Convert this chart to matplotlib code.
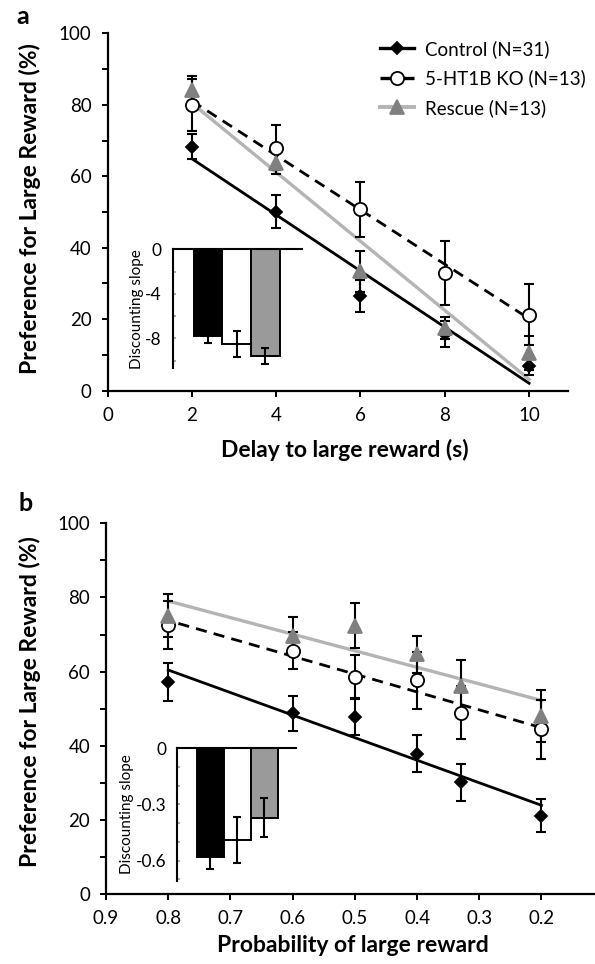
import numpy as np
import matplotlib
matplotlib.use("Agg")
import matplotlib.pyplot as plt
from matplotlib.lines import Line2D

plt.rcParams['font.family'] = ['Lato', 'DejaVu Sans']

# ---------------- data ----------------
series_names = ["Control (N=31)", "5-HT1B KO (N=13)", "Rescue (N=13)"]

delays = [2, 4, 6, 8, 10]
ctrl_a = [68.3, 50.1, 26.4, 15.8, 6.9]
ctrl_a_err = [3.5, 4.7, 4.5, 3.7, 2.5]
ko_a = [80.0, 68.0, 50.8, 33.0, 21.3]
ko_a_err = [7.3, 6.3, 7.7, 9.0, 8.5]
res_a = [84.0, 63.7, 33.4, 17.5, 10.5]
res_a_err = [4.0, 3.0, 5.8, 3.0, 4.7]

probs = [0.8, 0.6, 0.5, 0.4, 0.33, 0.2]
ctrl_b = [57.1, 48.7, 47.8, 37.8, 30.2, 21.1]
ctrl_b_err = [5.1, 4.7, 5.0, 5.0, 5.0, 4.5]
ko_b = [72.6, 65.6, 58.6, 57.6, 48.9, 44.4]
ko_b_err = [6.5, 5.0, 6.0, 7.6, 7.2, 8.0]
res_b = [75.1, 69.7, 72.4, 64.7, 56.2, 48.0]
res_b_err = [5.8, 5.0, 6.0, 5.0, 7.0, 7.0]

slope_a = [-7.8, -8.5, -9.6]
slope_a_err = [0.65, 1.15, 0.75]
slope_b = [-0.58, -0.49, -0.37]
slope_b_err = [0.066, 0.123, 0.104]

a_xticks = [0, 2, 4, 6, 8, 10]
b_xticks = [0.9, 0.8, 0.7, 0.6, 0.5, 0.4, 0.3, 0.2]
y_ticks = [0, 20, 40, 60, 80, 100]

# ---------------- styles ----------------
W, H = 595, 964
TICK_FS = 13.5
LABEL_FS = 16.5
LINE_GRAY = '#b4b4b4'
MARK_GRAY = '#808080'
BAR_GRAY = '#9a9a9a'

styles = [
    dict(marker='D', ms=6.5, mfc='black', mec='black', line_color='black', ls='-', lw=2.0),
    dict(marker='o', ms=9.5, mfc='white', mec='black', line_color='black', ls=(0, (4, 2.6)), lw=2.0),
    dict(marker='^', ms=10.5, mfc=MARK_GRAY, mec=MARK_GRAY, line_color=LINE_GRAY, ls='-', lw=2.4),
]

fig = plt.figure(figsize=(W / 100, H / 100), dpi=100)


def fig_rect(left_px, top_px, right_px, bottom_px):
    return [left_px / W, 1 - bottom_px / H, (right_px - left_px) / W, (bottom_px - top_px) / H]


def style_main(ax):
    for s in ['top', 'right']:
        ax.spines[s].set_visible(False)
    for s in ['left', 'bottom']:
        ax.spines[s].set_linewidth(1.6)
    ax.tick_params(axis='both', which='both', direction='out', width=1.4, length=4,
                   labelsize=TICK_FS, pad=7.5)
    ax.set_ylim(0, 100)
    ax.set_yticks(y_ticks)
    ax.set_yticks(np.arange(10, 100, 20), minor=True)


def plot_group(ax, x, ys, errs):
    for (y, e, st) in zip(ys, errs, styles):
        ax.errorbar(x, y, yerr=e, fmt='none', ecolor='black', elinewidth=1.5,
                    capsize=3.5, capthick=1.5, zorder=3)
    # regression lines
    for (y, st) in zip(ys, styles):
        k, b = np.polyfit(x, y, 1)
        xs = np.array([min(x), max(x)])
        ax.plot(xs, k * xs + b, color=st['line_color'], ls=st['ls'], lw=st['lw'], zorder=2)
    for (y, st) in zip(ys, styles):
        ax.plot(x, y, ls='none', marker=st['marker'], ms=st['ms'], mfc=st['mfc'],
                mec=st['mec'], mew=1.3, zorder=4)


def inset(rect, vals, errs, ylim, yticks, minor, ylabels, xlim):
    ax = fig.add_axes(rect)
    pos = np.arange(len(vals))
    ax.bar(pos, vals, width=1.0, color=['black', 'white', BAR_GRAY],
           edgecolor='black', linewidth=1.4, zorder=2)
    ax.errorbar(pos, vals, yerr=errs, fmt='none', ecolor='black', elinewidth=1.5,
                capsize=3, capthick=1.5, zorder=3)
    ax.set_xlim(*xlim)
    ax.set_ylim(*ylim)
    for s in ['bottom', 'right']:
        ax.spines[s].set_visible(False)
    for s in ['left', 'top']:
        ax.spines[s].set_linewidth(1.5)
    ax.set_xticks([])
    ax.set_yticks(yticks)
    ax.set_yticklabels(ylabels)
    ax.set_yticks(minor, minor=True)
    ax.tick_params(axis='y', which='both', direction='in', length=2, width=1.2,
                   color='#999999', labelsize=12.5, pad=8)
    ax.set_ylabel('Discounting slope', fontsize=11, labelpad=1)
    ax.patch.set_alpha(0)
    return ax


# ---------------- panel a ----------------
axA = fig.add_axes(fig_rect(107.5, 33.3, 568.3, 390.7))
style_main(axA)
axA.set_xlim(0, 10.93)
axA.set_xticks(a_xticks)
plot_group(axA, delays, [ctrl_a, ko_a, res_a], [ctrl_a_err, ko_a_err, res_a_err])

handles = [Line2D([0], [0], color=st['line_color'], ls=st['ls'], lw=st['lw'] + 0.4,
                  marker=st['marker'], ms=st['ms'], mfc=st['mfc'], mec=st['mec'], mew=1.3)
           for st in styles]
fig.legend(handles, series_names, loc='upper left', bbox_to_anchor=(380 / W, 1 - 40 / H),
           frameon=False, fontsize=13.5, handlelength=1.8, handletextpad=0.6,
           labelspacing=0.62, borderpad=0, borderaxespad=0)

inset(fig_rect(172.7, 249.3, 301.7, 368.3), slope_a, slope_a_err, (-10.7, 0),
      [0, -4, -8], [-2, -6, -10], ['0', '-4', '-8'], (-1.23, 3.27))

# ---------------- panel b ----------------
axB = fig.add_axes(fig_rect(106, 523.3, 595, 894))
style_main(axB)
axB.set_xlim(0.9, 0.114)
axB.set_xticks(b_xticks)
axB.set_xticklabels([f'{v:.1f}' for v in b_xticks])
plot_group(axB, probs, [ctrl_b, ko_b, res_b], [ctrl_b_err, ko_b_err, res_b_err])

inset(fig_rect(177.3, 748.3, 296, 880.7), slope_b, slope_b_err, (-0.707, 0),
      [0, -0.3, -0.6], [-0.1, -0.2, -0.4, -0.5, -0.7], ['0', '-0.3', '-0.6'], (-1.23, 3.17))

# ---------------- labels ----------------
ylab = 'Preference for Large Reward (%)'
fig.text(30 / W, 1 - 209 / H, ylab, rotation=90, ha='center', va='center',
         fontsize=LABEL_FS, fontweight='bold')
fig.text(30 / W, 1 - 702 / H, ylab, rotation=90, ha='center', va='center',
         fontsize=LABEL_FS, fontweight='bold')
fig.text(345 / W, 1 - 450 / H, 'Delay to large reward (s)', ha='center', va='center',
         fontsize=LABEL_FS, fontweight='bold')
fig.text(353 / W, 1 - 945 / H, 'Probability of large reward', ha='center', va='center',
         fontsize=LABEL_FS, fontweight='bold')
fig.text(23 / W, 1 - 17 / H, 'a', ha='center', va='center', fontsize=18, fontweight='bold')
fig.text(26 / W, 1 - 503 / H, 'b', ha='center', va='center', fontsize=18, fontweight='bold')

fig.savefig('out.png', dpi=100)
